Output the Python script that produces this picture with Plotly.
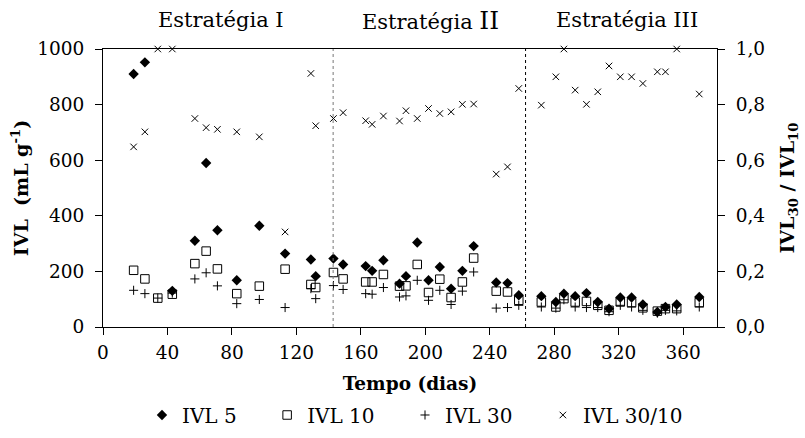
import plotly.graph_objects as go

# ---- data ----
dias = [19, 26, 34, 43, 57, 64, 71, 83, 97, 113, 129, 132,
        143, 149, 163, 167, 174, 184, 188, 195, 202, 209, 216, 223, 230, 244, 251, 258,
        272, 281, 286, 293, 300, 307, 314, 321, 328, 335, 344, 349, 356, 370]
ivl5 = [910, 952, None, 130, 310, 590, 348, 168, 364, 264, 243, 183,
        246, 225, 219, 202, 240, 156, 183, 304, 168, 216, 138, 202, 291, 160, 158, 114,
        111, 90, 120, 111, 122, 90, 66, 106, 106, 81, 54, 72, 81, 108]
ivl10 = [204, 173, 104, 118, 228, 273, 209, 120, 147, 208, 153, 142,
         196, 173, 162, 162, 189, 147, 148, 225, 124, 172, 106, 162, 248, 129, 126, 96,
         90, 72, 102, 90, 92, 78, 60, 90, 88, 69, 57, 66, 66, 88]
ivl30 = [132, 120, 104, 122, 173, 195, 148, 84, 99, 70, 138, 102,
         149, 135, 120, 118, 142, 108, 112, 168, 96, 132, 81, 129, 198, 68, 70, 78,
         72, 68, 98, 72, 70, 70, 55, 78, 72, 60, 50, 60, 58, 72]
ivl30_10 = [0.648, 0.702, 1.0, 1.0, 0.750, 0.717, 0.711, 0.702, 0.684, 0.342, 0.912, 0.724,
            0.750, 0.771, 0.742, 0.729, 0.759, 0.741, 0.778, 0.750, 0.786, 0.768, 0.774, 0.801, 0.802, 0.550, 0.576, 0.858,
            0.798, 0.900, 1.0, 0.852, 0.801, 0.846, 0.939, 0.900, 0.900, 0.876, 0.918, 0.918, 1.0, 0.838]

series_names = ["IVL 5", "IVL 10", "IVL 30", "IVL 30/10"]
limites = [142.8, 262.2]
estrategias = ["Estratégia I", "Estratégia II", "Estratégia III"]
centros = [73, 203, 325]

FONT = "DejaVu Serif"
NB = "\u00a0"
pads = [4, 4, 4, 0]
labels = [n + NB * p for n, p in zip(series_names, pads)]

fig = go.Figure()
fig.add_trace(go.Scatter(x=dias, y=ivl5, mode="markers", name=labels[0], cliponaxis=False,
                         marker=dict(symbol="diamond", size=8, color="black")))
fig.add_trace(go.Scatter(x=dias, y=ivl10, mode="markers", name=labels[1], cliponaxis=False,
                         marker=dict(symbol="square-open", size=8.5, color="black", line=dict(width=1, color="black"))))
fig.add_trace(go.Scatter(x=dias, y=ivl30, mode="markers", name=labels[2], cliponaxis=False,
                         marker=dict(symbol="cross-thin-open", size=6.5, color="black", line=dict(width=1, color="black"))))
fig.add_trace(go.Scatter(x=dias, y=ivl30_10, mode="markers", name=labels[3], yaxis="y2", cliponaxis=False,
                         marker=dict(symbol="x-thin-open", size=6.5, color="black", line=dict(width=1, color="black"))))

for i, xv in enumerate(limites):
    fig.add_shape(type="line", x0=xv, x1=xv, y0=0, y1=1, xref="x", yref="paper",
                  line=dict(color="#777777" if i == 0 else "black", width=1, dash="dot"))

for name, cx in zip(estrategias, centros):
    if name == "Estratégia II":
        txt = "Estratégia <span style='font-size:25px'>II</span>"
    else:
        txt = name
    fig.add_annotation(x=cx, y=1.104, xref="x", yref="paper", text=txt, showarrow=False,
                       xanchor="center", yanchor="middle", font=dict(family=FONT, size=21, color="black"))

axis_common = dict(showline=True, linecolor="black", linewidth=1, ticks="outside", ticklen=7,
                   tickcolor="black", showgrid=False, zeroline=False,
                   tickfont=dict(family=FONT, size=18.5, color="black"))

fig.update_layout(
    width=805, height=438,
    margin=dict(l=103, r=88, t=49, b=111, autoexpand=False),
    paper_bgcolor="white", plot_bgcolor="white",
    separators=",.",
    font=dict(family=FONT, color="black"),
    xaxis=dict(range=[0, 381], dtick=40, tick0=0, mirror=True, ticklabelstandoff=2,
               title=dict(text="<b>Tempo (dias)</b>", font=dict(family=FONT, size=18.5), standoff=14),
               **axis_common),
    yaxis=dict(range=[0, 1000], dtick=200, ticklabelstandoff=7,
               title=dict(text="<b>IVL  (mL g<sup>-1</sup>)</b>", font=dict(family=FONT, size=19), standoff=3),
               **axis_common),
    yaxis2=dict(range=[0, 1], dtick=0.2, tickformat=".1f", overlaying="y", side="right", ticklabelstandoff=7,
                title=dict(text="<b>IVL<sub>30</sub> / IVL<sub>10</sub></b>", font=dict(family=FONT, size=19), standoff=16),
                **axis_common),
    showlegend=True,
    legend=dict(orientation="h", x=0.0635, xanchor="left", y=-0.3165, yanchor="middle",
                font=dict(family=FONT, size=20, color="black"), itemwidth=30,
                bgcolor="rgba(0,0,0,0)"),
)

fig.write_html("out.html")
